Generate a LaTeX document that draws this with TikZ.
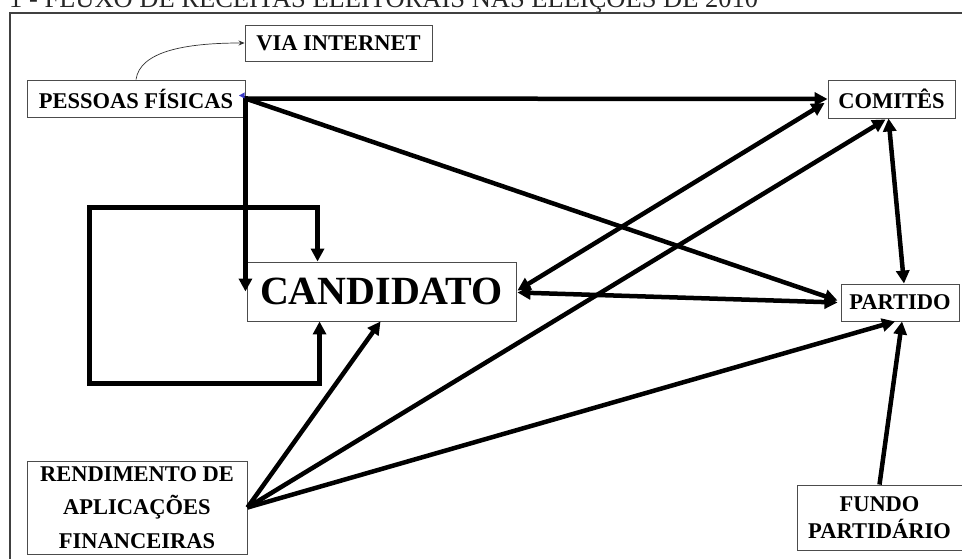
\documentclass[tikz,border=0pt]{standalone}
\usepackage{fontspec}
\setmainfont{Liberation Serif}
\usetikzlibrary{arrows.meta,calc}
\tikzset{
  box/.style={draw=black!70, line width=0.9pt, inner sep=0pt, align=center,
              font=\bfseries\fontsize{22.5}{27}\selectfont},
  flow/.style={line width=4.5pt, draw=black, line cap=butt, line join=miter,
               -{Triangle[length=13pt,width=13pt]}},
  bflow/.style={flow, {Triangle[length=13pt,width=13pt]}-{Triangle[length=13pt,width=13pt]}},
  thinflow/.style={line width=0.7pt, draw=black!80, -{Stealth[length=6pt,width=5pt]}},
  frame/.style={draw=black!75, line width=1.6pt},
  handle/.style={fill=blue!55!gray}
}
\begin{document}
\begin{tikzpicture}[x=1pt,y=-1pt]
\useasboundingbox (0,0) rectangle (962,559);
\clip (0,0) rectangle (962,559);
\fill[white] (0,0) rectangle (962,559);

% title (top cut off)
\node[anchor=base west, inner sep=0pt, font=\fontsize{26.5}{30}\selectfont, text=black!85] (title) at (9,8) {1 - FLUXO DE RECEITAS ELEITORAIS NAS ELEIÇÕES DE 2010};

% outer frame
\coordinate (fA) at (10,575);
\coordinate (fB) at (10,13);
\coordinate (fC) at (980,13);
\draw[frame] (fA) -- (fB) -- (fC);

% nodes
\node[box, minimum width=187, minimum height=36] (via) at (338.5,43) {VIA INTERNET};
\node[box, minimum width=218, minimum height=37] (pes) at (136,98.5) {PESSOAS FÍSICAS};
\node[box, minimum width=127, minimum height=38] (com) at (891.5,99) {COMITÊS};
\node[box, minimum width=269, minimum height=59, font=\bfseries\fontsize{40}{44}\selectfont] (cand) at (381.5,291.5) {CANDIDATO};
\node[box, minimum width=118, minimum height=37] (part) at (900,302.5) {PARTIDO};
\node[box, minimum width=220, minimum height=93, font=\bfseries\fontsize{22.5}{33.5}\selectfont] (rend) at (137,507.5) {RENDIMENTO DE\\APLICAÇÕES\\FINANCEIRAS};
\node[box, minimum width=165, minimum height=65, font=\bfseries\fontsize{22.5}{27}\selectfont] (fundo) at (879.5,517.5) {FUNDO\\PARTIDÁRIO};

% connectors
\draw[thinflow] (pes.north) .. controls ($(pes.north)+(4,-28)$) and ($(via.west)+(-60,0)$) .. (via.west);

\draw[flow] (pes.east) -- (com.west);
\draw[flow] (pes.east) -- ($(part.west)+(-3,-2)$);
\draw[flow] ($(pes.east)+(0,-2)$) -- (pes.east |- cand.west);

\draw[bflow] ($(cand.north west)+(71,0)$) -- ++(0,-54) -| ($(cand.south west)+(-157,62)$) -| ($(cand.south west)+(73,0)$);

\draw[bflow] ($(cand.east)+(1,-1)$) -- ($(com.west)+(-3,4)$);
\draw[bflow] ($(cand.east)+(1,1)$) -- ($(part.west)+(-3,0)$);

\draw[flow] (rend.east) -- ($(com.south)+(-6,1)$);
\draw[flow] (rend.east) -- ($(cand.south)+(-1,0)$);
\draw[flow] (rend.east) -- ($(part.south)+(-5,0)$);

\draw[flow] (fundo.north) -- ($(part.south)+(2,0)$);

\draw[bflow] ($(com.south)+(-3,0)$) -- ($(part.north)+(4,0)$);

% small connection handles
\fill[handle] (239,95.5) -- (244.5,92.5) -- (244.5,98.5) -- cycle;
\end{tikzpicture}
\end{document}
